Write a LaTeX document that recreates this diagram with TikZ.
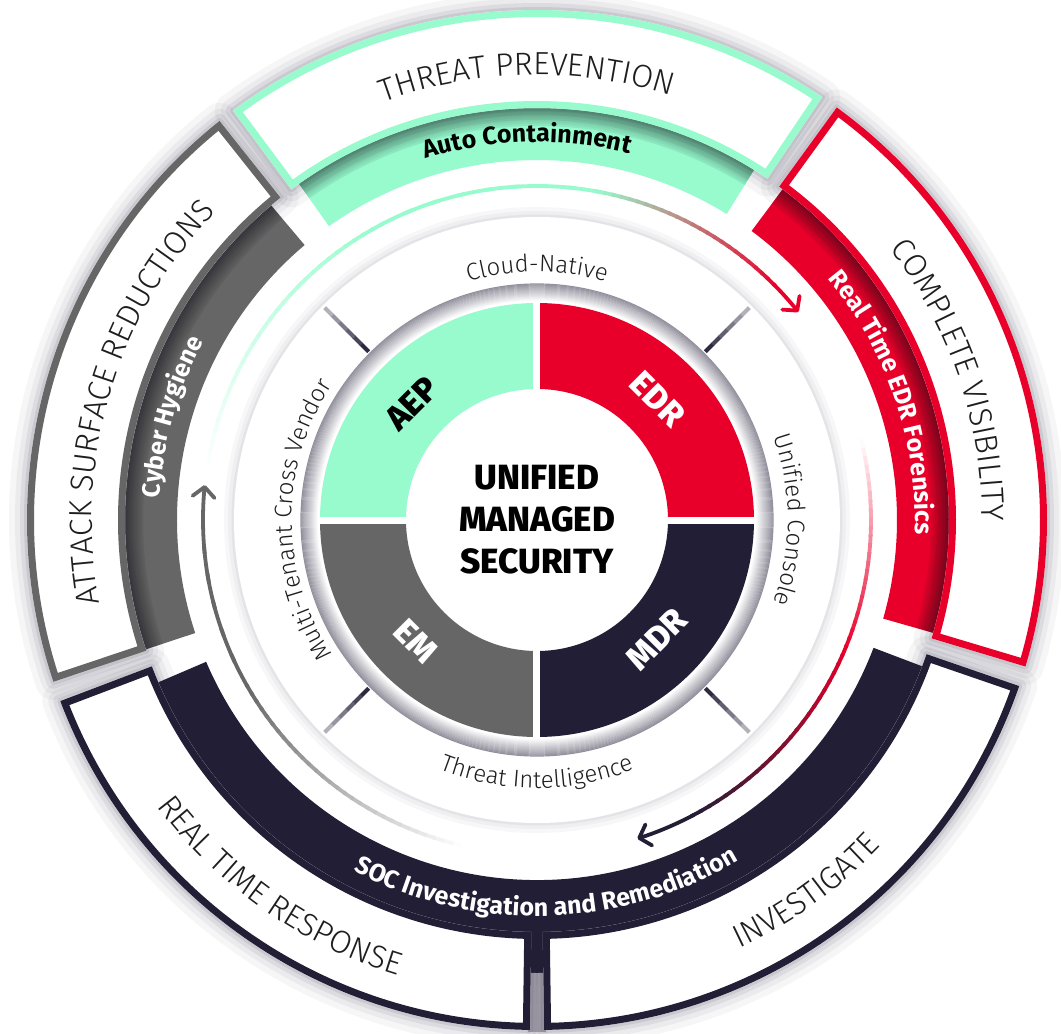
\documentclass[tikz,border=0pt]{standalone}
\usepackage{fontspec}
\usetikzlibrary{decorations.text,arrows.meta}
\setmainfont{Fira Sans}
\IfFontExistsTF{Fira Sans Light}{\newfontfamily\lightf{Fira Sans Light}}{\newfontfamily\lightf{Fira Sans}}
\IfFontExistsTF{Fira Sans ExtraBold}{\newfontfamily\heavyf{Fira Sans ExtraBold}}{\newfontfamily\heavyf{Fira Sans}[UprightFont=*-Bold]}
\definecolor{mint}{RGB}{151,251,206}
\definecolor{cred}{RGB}{232,0,42}
\definecolor{navy}{RGB}{34,30,54}
\definecolor{cgray}{RGB}{102,102,102}
\definecolor{ink}{RGB}{30,30,30}

\newcommand\sect[4]{(#1:#3) arc[start angle=#1,end angle=#2,radius=#3] -- (#2:#4) arc[start angle=#2,end angle=#1,radius=#4] -- cycle}
\newcommand\obox[3]{%
  \fill[white] \sect{#1}{#2}{412}{510};
  \begin{scope}
    \clip \sect{#1}{#2}{412}{510};
    \draw[#3, line width=14] \sect{#1}{#2}{412}{510};
  \end{scope}}
\newcommand\oshadow[2]{%
  \foreach \sw/\so in {36/0.04,24/0.05,14/0.07,6/0.09}{%
    \draw[navy, opacity=\so, line width=\sw, line join=round] \sect{#1}{#2}{412}{510};}}
\newcommand\bandshade[2]{%
  \begin{scope}
    \clip \sect{#1}{#2}{360}{413};
    \foreach \k in {1,...,10}{\draw[black, opacity=0.045, line width=4*\k] (0,0) circle (414);}
  \end{scope}}
\newcommand\garc[6]{%
  \foreach \i in {1,...,#6}{%
    \pgfmathsetmacro\gaA{(#2)+((#3)-(#2))*(\i-1)/#6}%
    \pgfmathsetmacro\gaB{(#2)+((#3)-(#2))*(\i+0.3)/#6}%
    \pgfmathtruncatemacro\gpc{100*(\i-0.5)/#6}%
    \draw[line width=3.8, color=#5!\gpc!#4] (\gaA:#1) arc[start angle=\gaA, end angle=\gaB, radius=#1];
  }}
\newcommand\ctext[5]{%
  \path[decorate,decoration={text along path,text align=center,text={|#4|#5}}]
    (#2:#1) arc[start angle=#2,end angle=#3,radius=#1];}
\newcommand\fOuter{\lightf\fontsize{32}{38}\selectfont\color{ink}}
\newcommand\fRing{\lightf\fontsize{24}{28}\selectfont\color{ink}}
\newcommand\fBandK{\bfseries\fontsize{25}{30}\selectfont\color{black}}
\newcommand\fBandW{\bfseries\fontsize{25}{30}\selectfont\color{white}}
\tikzset{quadlabel/.style={font=\heavyf\fontsize{34}{40}\selectfont}}

\begin{document}
\begin{tikzpicture}[x=1pt,y=1pt]
\useasboundingbox (-537,-514) rectangle (524,520);
\fill[white] (-537,-514) rectangle (524,520);
% middle bands
\fill[mint] \sect{58.2}{125.3}{360}{455};
\fill[cgray] \sect{130.2}{198.3}{360}{455};
\fill[navy] \sect{203.2}{339.2}{360}{455};
\fill[cred] \sect{-15.9}{53.4}{360}{455};
\fill[navy!30!white] \sect{-91}{-89}{453}{512};
\bandshade{58.2}{125.3}
\bandshade{130.2}{198.3}
\bandshade{-15.9}{53.4}
% shadows of outer boxes
\oshadow{56}{126.6}
\oshadow{128.5}{198.5}
\oshadow{200.8}{269.2}
\oshadow{270.8}{341}
\oshadow{-16.7}{54}
% outer boxes
\obox{56}{126.6}{mint}
\obox{128.5}{198.5}{cgray}
\obox{200.8}{269.2}{navy}
\obox{270.8}{341}{navy}
\obox{-16.7}{54}{cred}
% inner ring
\foreach \sw/\so in {20/0.03,12/0.04,5/0.05}{\draw[navy,opacity=\so,line width=\sw] (0,0) circle (303);}
\fill[white] (0,0) circle (303);
\foreach \i in {0,...,17}{\pgfmathtruncatemacro\tkp{\i*2.9}\draw[navy!\tkp!white, line width=1.2] (0,0) circle (219+\i);}
\foreach \a in {45,135,225,315}{
  \foreach \j in {0,...,5}{
    \pgfmathsetmacro\ra{238+\j*10.3}
    \pgfmathsetmacro\rb{238+(\j+1)*10.3+0.5}
    \pgfmathtruncatemacro\tkq{95-\j*12}
    \draw[navy!\tkq!white, line width=4] (\a:\ra) -- (\a:\rb);
  }}
% quadrants
\fill[mint] \sect{90}{180}{131}{217};
\fill[cred] \sect{0}{90}{131}{217};
\fill[cgray] \sect{180}{270}{131}{217};
\fill[navy] \sect{270}{360}{131}{217};
\draw[white, line width=7] (-219,0) -- (219,0);
\draw[white, line width=7] (0,-219) -- (0,219);
\node[quadlabel, rotate=45, text=black] (aep) at (137:171) {AEP};
\node[quadlabel, rotate=-45, text=white] (edr) at (45:171) {EDR};
\node[quadlabel, rotate=-45, text=white] (em) at (225:171) {EM};
\node[quadlabel, rotate=45, text=white] (mdr) at (315:169) {MDR};
\node[align=center, font=\heavyf\fontsize{35}{42}\selectfont, text=black] (center) at (0,0) {UNIFIED\\MANAGED\\SECURITY};
% cycle arrows
\garc{334}{172}{118}{white}{mint}{30}
\garc{334}{118}{80}{mint}{mint}{8}
\garc{334}{80}{45}{mint}{cred}{24}
\draw[cred,line width=3.8,-{Straight Barb[length=10pt,width=22pt,round]}] (45:334) arc[start angle=45,end angle=38.5,radius=334];
\garc{334}{14}{-22}{white}{cred}{24}
\garc{334}{-22}{-62}{cred}{navy}{24}
\draw[navy,line width=3.8,-{Straight Barb[length=10pt,width=22pt,round]}] (-62:334) arc[start angle=-62,end angle=-72.5,radius=334];
\garc{334}{-103}{-150}{white}{cgray}{30}
\garc{334}{-150}{-179}{cgray}{cgray}{6}
\draw[cgray,line width=3.8,-{Straight Barb[length=10pt,width=22pt,round]}] (-179:334) arc[start angle=-179,end angle=-186,radius=334];
% outer labels
\ctext{445}{151.3}{31.3}{\fOuter}{THREAT PREVENTION}
\ctext{445}{78.7}{-41.3}{\fOuter}{COMPLETE VISIBILITY}
\ctext{445}{223.5}{103.5}{\fOuter}{ATTACK SURFACE REDUCTIONS}
\ctext{476}{175}{295}{\fOuter}{REAL TIME RESPONSE}
\ctext{474}{245.9}{365.9}{\fOuter}{INVESTIGATE}
% band labels
\ctext{378}{151.5}{31.5}{\fBandK}{Auto Containment}
\ctext{378}{78.75}{-41.25}{\fBandW}{Real Time EDR Forensics}
\ctext{378}{224.25}{104.25}{\fBandW}{Cyber Hygiene}
\ctext{396}{211.5}{331.5}{\fBandW}{SOC Investigation and Remediation}
% ring labels
\ctext{248}{150}{30}{\fRing}{Cloud-Native}
\ctext{251}{60}{-60}{\fRing}{Unified Console}
\ctext{245}{240}{120}{\fRing}{Multi-Tenant Cross Vendor}
\ctext{268}{210}{330}{\fRing}{Threat Intelligence}
\end{tikzpicture}
\end{document}
